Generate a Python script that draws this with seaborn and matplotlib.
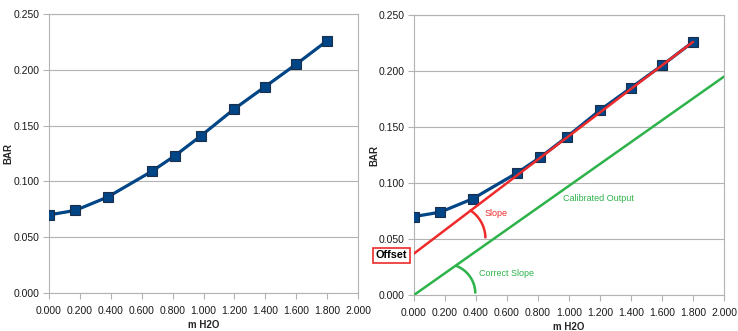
import matplotlib
matplotlib.use("Agg")
import matplotlib.pyplot as plt
import seaborn as sns
import pandas as pd
import numpy as np

# --- Data ---
m_h2o = [0.000, 0.170, 0.380, 0.665, 0.815, 0.985, 1.200, 1.400, 1.600, 1.800]
bar = [0.070, 0.074, 0.086, 0.109, 0.123, 0.141, 0.165, 0.185, 0.205, 0.226]

fit_x = [0.0, 1.8]          # red "slope" line through the points
fit_y = [0.037, 0.226]
calib_x = [0.0, 2.0]        # green "calibrated output" line
calib_y = [0.0, 0.195]

x_ticks = [0.0, 0.2, 0.4, 0.6, 0.8, 1.0, 1.2, 1.4, 1.6, 1.8, 2.0]
y_ticks = [0.0, 0.05, 0.10, 0.15, 0.20, 0.25]

df = pd.DataFrame({"m H2O": m_h2o, "BAR": bar})

sns.set_style("white")
plt.rcParams["font.family"] = ["Liberation Sans", "DejaVu Sans"]

BLUE = "#004586"
RED = "#ee2a2a"
GREEN = "#2db34a"
GRID = "#b3b3b3"

fig = plt.figure(figsize=(7.38, 3.31), dpi=100)
ax1 = fig.add_axes([49 / 738, 38 / 331, 309 / 738, 279 / 331])
ax2 = fig.add_axes([414 / 738, 36 / 331, 310 / 738, 280 / 331])


def style_axis(ax, ylab_x):
    ax.set_xlim(0, 2.0)
    ax.set_ylim(0, 0.25)
    ax.set_xticks(x_ticks)
    ax.set_yticks(y_ticks)
    ax.set_xticklabels([f"{v:.3f}" for v in x_ticks])
    ax.set_yticklabels([f"{v:.3f}" for v in y_ticks])
    ax.yaxis.grid(True, color=GRID, linewidth=0.8)
    ax.xaxis.grid(False)
    for s in ax.spines.values():
        s.set_color(GRID)
        s.set_linewidth(0.8)
    ax.tick_params(axis="both", which="major", length=4, width=0.8, color=GRID,
                   labelsize=7.5, labelcolor="#1a1a1a", direction="out",
                   left=True, bottom=True)
    ax.tick_params(axis="x", pad=5)
    ax.tick_params(axis="y", pad=3)
    ax.set_xlabel("m H2O", fontsize=7, fontweight="bold")
    ax.set_ylabel("BAR", fontsize=7, fontweight="bold")
    ax.xaxis.set_label_coords(0.5, -0.095)
    ax.yaxis.set_label_coords(ylab_x, 0.5)
    ax.set_axisbelow(True)


for ax, lx in ((ax1, -0.115), (ax2, -0.112)):
    sns.lineplot(data=df, x="m H2O", y="BAR", ax=ax, color=BLUE, linewidth=2.3,
                 marker="s", markersize=7, markerfacecolor=BLUE,
                 markeredgecolor="#1c2f4a", markeredgewidth=0.8, zorder=3)
    style_axis(ax, lx)

# --- Right panel annotations ---
sns.lineplot(x=fit_x, y=fit_y, ax=ax2, color=RED, linewidth=1.8, zorder=4)
sns.lineplot(x=calib_x, y=calib_y, ax=ax2, color=GREEN, linewidth=1.8, zorder=4)

# angle arcs, kept circular in pixels
fig.canvas.draw()
bb = ax2.get_window_extent()
xpp = 2.0 / bb.width
ypp = 0.25 / bb.height


def arc(cx, cy, r_px, t2, color):
    t = np.radians(np.linspace(0, t2, 40))
    ax2.plot(cx + r_px * np.cos(t) * xpp, cy + r_px * np.sin(t) * ypp,
             color=color, linewidth=1.8, zorder=4, clip_on=False,
             solid_capstyle="butt")


arc(0.2445, 0.0506, 33.5, 58, RED)
arc(0.2045, 0.0013, 29.6, 69, GREEN)

ax2.text(0.452, 0.0732, "Slope", color=RED, fontsize=6.5, va="center", ha="left")
ax2.text(0.961, 0.0866, "Calibrated Output", color=GREEN, fontsize=6.5,
         va="center", ha="left")
ax2.text(0.419, 0.0188, "Correct Slope", color=GREEN, fontsize=6.5,
         va="center", ha="left")
ax2.text(-0.148, 0.0353, "Offset", color="black", fontsize=7.8, fontweight="bold",
         va="center", ha="center", clip_on=False, zorder=6,
         bbox=dict(boxstyle="square,pad=0.25", facecolor="white",
                   edgecolor=RED, linewidth=1.2))

fig.savefig("out.png", dpi=100)
plt.close(fig)
